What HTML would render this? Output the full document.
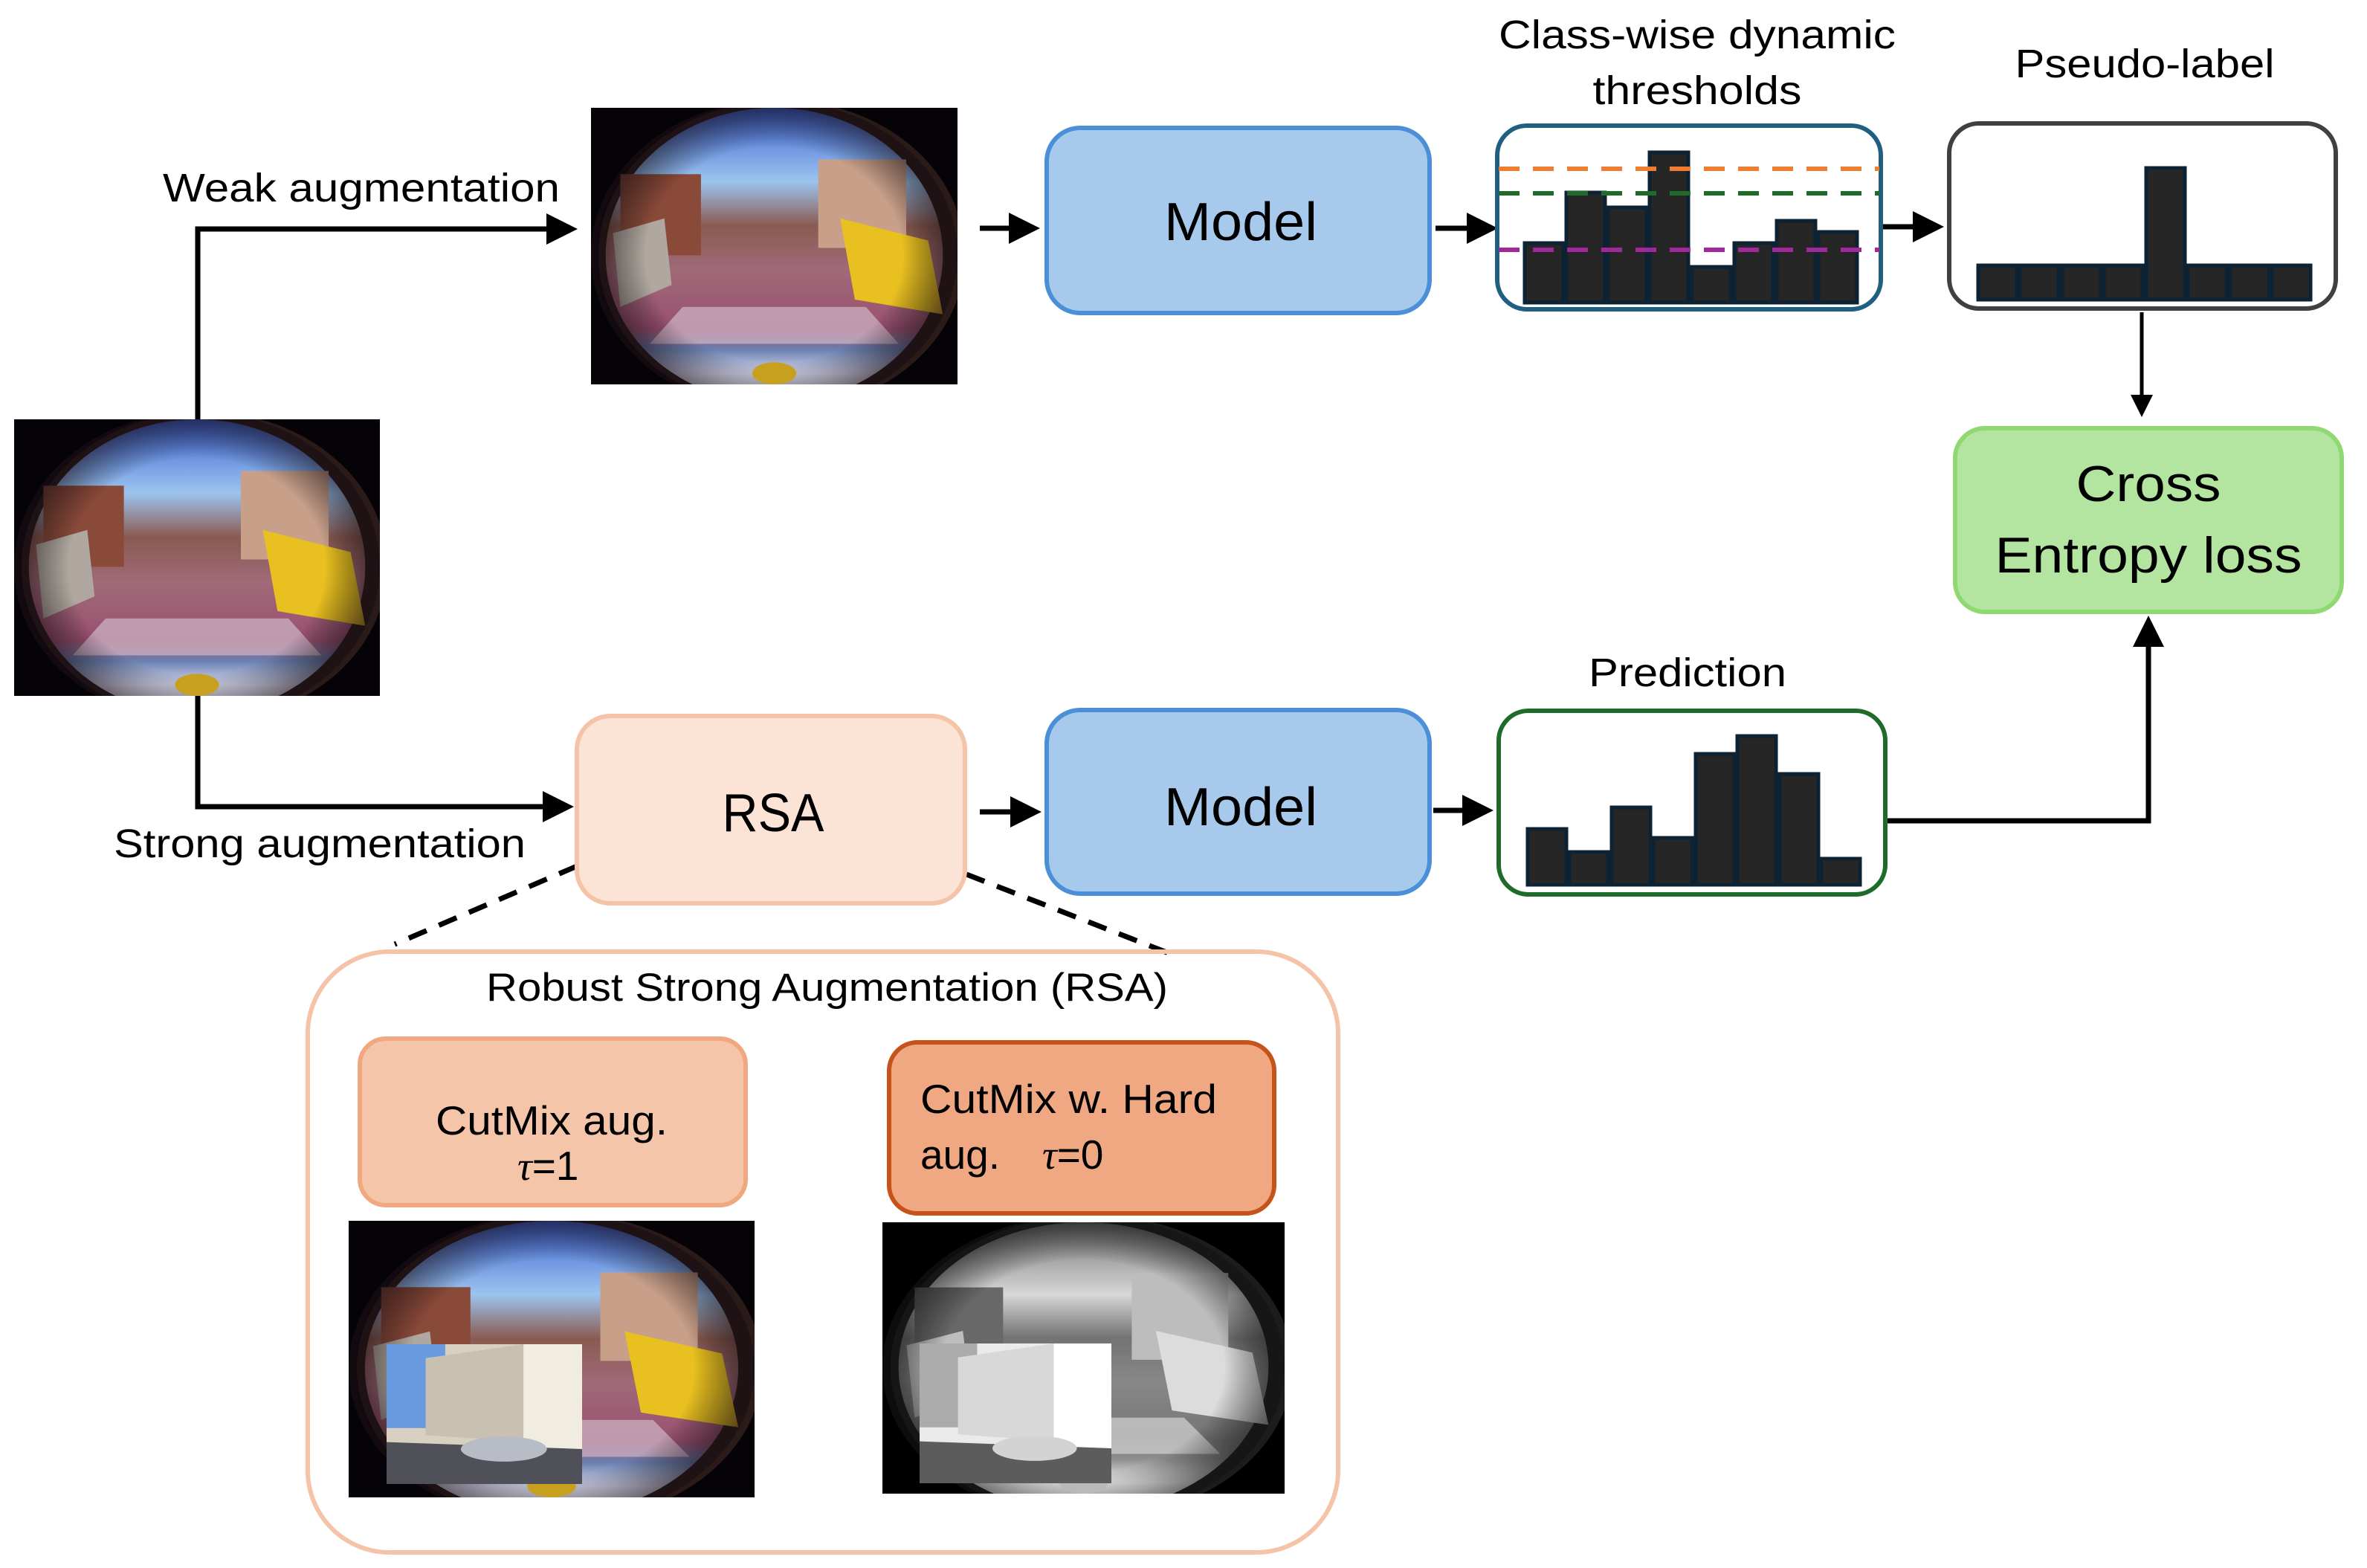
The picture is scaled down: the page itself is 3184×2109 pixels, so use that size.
<!DOCTYPE html>
<html><head><meta charset="utf-8"><style>
html,body{margin:0;padding:0;background:#fff;}
svg{display:block;}
text{font-family:"Liberation Sans",sans-serif;fill:#000;}
</style></head><body>
<svg width="3184" height="2109" viewBox="0 0 3184 2109" xmlns="http://www.w3.org/2000/svg">
<defs>
  <linearGradient id="sky" x1="0" y1="0" x2="0" y2="1">
    <stop offset="0" stop-color="#3a5fd0"/><stop offset="0.25" stop-color="#9cc4ee"/>
    <stop offset="0.4" stop-color="#8a5a50"/><stop offset="0.55" stop-color="#a06a78"/>
    <stop offset="0.75" stop-color="#9a5070"/><stop offset="0.82" stop-color="#6a80b0"/>
    <stop offset="0.9" stop-color="#d8d8ee"/><stop offset="1" stop-color="#e8e8f4"/>
  </linearGradient>
  <radialGradient id="vig" cx="0.5" cy="0.5" r="0.5">
    <stop offset="0.7" stop-color="#000" stop-opacity="0"/><stop offset="1" stop-color="#1a0e14" stop-opacity="0.7"/>
  </radialGradient>
  <symbol id="fish" viewBox="0 0 100 75" preserveAspectRatio="none">
    <rect width="100" height="75" fill="#050308"/>
    <ellipse cx="52" cy="40" rx="50" ry="42" fill="#2a1a18"/>
    <ellipse cx="50" cy="40" rx="46" ry="40" fill="url(#sky)"/>
    <rect x="8" y="18" width="22" height="22" fill="#8a4a3a"/>
    <rect x="62" y="14" width="24" height="24" fill="#c8a08a"/>
    <polygon points="68,30 92,36 96,56 72,52" fill="#e8c020"/>
    <polygon points="6,34 20,30 22,48 8,54" fill="#b0a8a0"/>
    <polygon points="25,54 75,54 84,64 16,64" fill="#d0b8c8" opacity="0.7"/>
    <ellipse cx="50" cy="40" rx="50" ry="42" fill="url(#vig)"/>
    <ellipse cx="50" cy="72" rx="6" ry="3" fill="#c8a020"/>
  </symbol>
  <symbol id="city" viewBox="0 0 100 100" preserveAspectRatio="none">
    <rect width="100" height="100" fill="#d8d0c0"/>
    <rect x="0" y="0" width="30" height="60" fill="#6a9ae0"/>
    <polygon points="20,10 70,0 70,70 20,65" fill="#c8c0b0"/>
    <rect x="70" y="0" width="30" height="80" fill="#f0ece0"/>
    <polygon points="0,70 100,75 100,100 0,100" fill="#505058"/>
    <ellipse cx="60" cy="75" rx="22" ry="9" fill="#b8bcc4"/>
  </symbol>
  <filter id="gray"><feColorMatrix type="saturate" values="0"/><feComponentTransfer><feFuncR type="linear" slope="1.3"/><feFuncG type="linear" slope="1.3"/><feFuncB type="linear" slope="1.3"/></feComponentTransfer></filter>
  <marker id="ah" markerWidth="6" markerHeight="6" refX="5" refY="3" orient="auto" markerUnits="strokeWidth">
    <path d="M0,0 L6,3 L0,6 z" fill="#000"/>
  </marker>
</defs>

<!-- images -->
<use href="#fish" x="19" y="564" width="492" height="372"/>
<use href="#fish" x="795" y="145" width="493" height="372"/>
<g>
  <use href="#fish" x="469" y="1642" width="546" height="372"/>
  <use href="#city" x="520" y="1808" width="263" height="188"/>
</g>
<g filter="url(#gray)">
  <use href="#fish" x="1187" y="1644" width="541" height="365"/>
  <use href="#city" x="1237" y="1807" width="258" height="188"/>
</g>

<!-- connectors -->
<g stroke="#000" stroke-width="7" fill="none">
  <polyline points="266,564 266,308 770,308" marker-end="url(#ah)"/>
  <polyline points="266,936 266,1085 765,1085" marker-end="url(#ah)"/>
  <line x1="1318" y1="307" x2="1392" y2="307" marker-end="url(#ah)"/>
  <line x1="1931" y1="307" x2="2008" y2="307" marker-end="url(#ah)"/>
  <line x1="2531" y1="305" x2="2608" y2="305" marker-end="url(#ah)"/>
  <line x1="1318" y1="1092" x2="1394" y2="1092" marker-end="url(#ah)"/>
  <line x1="1928" y1="1090" x2="2002" y2="1090" marker-end="url(#ah)"/>
  <line x1="2881" y1="420" x2="2881" y2="556" stroke-width="5" marker-end="url(#ah)"/>
  <polyline points="2539,1104 2890,1104 2890,835" marker-end="url(#ah)"/>
</g>
<g stroke="#000" stroke-width="7" stroke-dasharray="26,18" fill="none">
  <line x1="776" y1="1165" x2="531" y2="1270"/>
  <line x1="1300" y1="1176" x2="1572" y2="1282"/>
</g>

<!-- Models -->
<rect x="1408" y="172" width="515" height="249" rx="45" fill="#a7c9ec" stroke="#4a8fd8" stroke-width="6"/>
<text x="1669" y="323" font-size="72" text-anchor="middle" textLength="206" lengthAdjust="spacingAndGlyphs">Model</text>
<rect x="1408" y="955" width="515" height="247" rx="45" fill="#a7c9ec" stroke="#4a8fd8" stroke-width="6"/>
<text x="1669" y="1110" font-size="72" text-anchor="middle" textLength="206" lengthAdjust="spacingAndGlyphs">Model</text>

<!-- RSA -->
<rect x="776" y="963" width="522" height="252" rx="45" fill="#fbe3d6" stroke="#f5c3a8" stroke-width="6"/>
<text x="1040" y="1118" font-size="72" text-anchor="middle" textLength="137" lengthAdjust="spacingAndGlyphs">RSA</text>

<!-- thresholds -->
<text x="2283" y="65" font-size="54" text-anchor="middle" textLength="534" lengthAdjust="spacingAndGlyphs">Class-wise dynamic</text>
<text x="2283" y="140" font-size="54" text-anchor="middle" textLength="281" lengthAdjust="spacingAndGlyphs">thresholds</text>
<rect x="2014" y="169" width="516" height="247" rx="40" fill="#fff" stroke="#1f5f80" stroke-width="6"/>
<g fill="#262626" stroke="#0d2233" stroke-width="5">
  <rect x="2051" y="327" width="52" height="80"/>
  <rect x="2107" y="259" width="52" height="148"/>
  <rect x="2163" y="279" width="52" height="128"/>
  <rect x="2219" y="205" width="52" height="202"/>
  <rect x="2276" y="359" width="52" height="48"/>
  <rect x="2333" y="327" width="52" height="80"/>
  <rect x="2390" y="297" width="52" height="110"/>
  <rect x="2446" y="312" width="52" height="95"/>
</g>
<g stroke-width="6" stroke-dasharray="28,18">
  <line x1="2016" y1="227" x2="2528" y2="227" stroke="#ed7d31"/>
  <line x1="2016" y1="260" x2="2528" y2="260" stroke="#1e6b2a"/>
  <line x1="2016" y1="336" x2="2528" y2="336" stroke="#a0289a"/>
</g>

<!-- pseudo-label -->
<text x="2885" y="104" font-size="54" text-anchor="middle" textLength="349" lengthAdjust="spacingAndGlyphs">Pseudo-label</text>
<rect x="2622" y="166" width="520" height="249" rx="40" fill="#fff" stroke="#404040" stroke-width="6"/>
<g fill="#262626" stroke="#0d2233" stroke-width="5">
  <rect x="2661" y="357" width="52" height="46"/>
  <rect x="2717" y="357" width="52" height="46"/>
  <rect x="2774" y="357" width="52" height="46"/>
  <rect x="2830" y="357" width="52" height="46"/>
  <rect x="2887" y="226" width="52" height="177"/>
  <rect x="2943" y="357" width="52" height="46"/>
  <rect x="3000" y="357" width="52" height="46"/>
  <rect x="3056" y="357" width="52" height="46"/>
</g>

<!-- cross entropy -->
<rect x="2630" y="576" width="520" height="247" rx="40" fill="#b3e5a0" stroke="#8fd872" stroke-width="6"/>
<text x="2890" y="674" font-size="68" text-anchor="middle" textLength="195" lengthAdjust="spacingAndGlyphs">Cross</text>
<text x="2890" y="770" font-size="68" text-anchor="middle" textLength="413" lengthAdjust="spacingAndGlyphs">Entropy loss</text>

<!-- prediction -->
<text x="2270" y="923" font-size="54" text-anchor="middle" textLength="266" lengthAdjust="spacingAndGlyphs">Prediction</text>
<rect x="2016" y="956" width="520" height="247" rx="40" fill="#fff" stroke="#1e6b2a" stroke-width="6"/>
<g fill="#262626" stroke="#0d2233" stroke-width="5">
  <rect x="2055" y="1115" width="52" height="75"/>
  <rect x="2111" y="1146" width="52" height="44"/>
  <rect x="2168" y="1086" width="52" height="104"/>
  <rect x="2224" y="1127" width="52" height="63"/>
  <rect x="2281" y="1014" width="52" height="176"/>
  <rect x="2337" y="990" width="52" height="200"/>
  <rect x="2394" y="1041" width="52" height="149"/>
  <rect x="2450" y="1155" width="52" height="35"/>
</g>

<!-- labels -->
<text x="219" y="271" font-size="54" textLength="534" lengthAdjust="spacingAndGlyphs">Weak augmentation</text>
<text x="153" y="1153" font-size="54" textLength="554" lengthAdjust="spacingAndGlyphs">Strong augmentation</text>

<!-- RSA detail -->
<rect x="414" y="1280" width="1386" height="808" rx="110" fill="none" stroke="#f5c3a8" stroke-width="6"/>
<text x="654" y="1346" font-size="53" textLength="917" lengthAdjust="spacingAndGlyphs">Robust Strong Augmentation (RSA)</text>
<rect x="484" y="1397" width="519" height="224" rx="35" fill="#f5c5a9" stroke="#f0a880" stroke-width="6"/>
<text x="586" y="1526" font-size="55" textLength="312" lengthAdjust="spacingAndGlyphs">CutMix aug.</text>
<text x="696" y="1587" font-size="55"><tspan font-family="Liberation Serif" font-style="italic">τ</tspan>=1</text>
<rect x="1196" y="1402" width="518" height="230" rx="38" fill="#f0a882" stroke="#c5531a" stroke-width="6"/>
<text x="1238" y="1497" font-size="55" textLength="399" lengthAdjust="spacingAndGlyphs">CutMix w. Hard</text>
<text x="1238" y="1572" font-size="55">aug.</text>
<text x="1402" y="1572" font-size="55"><tspan font-family="Liberation Serif" font-style="italic">τ</tspan>=0</text>
</svg>
</body></html>
